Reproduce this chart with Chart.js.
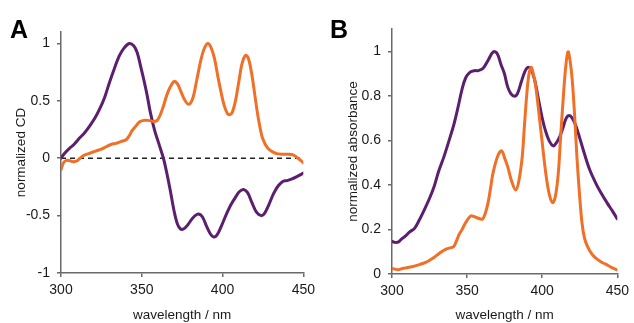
<!DOCTYPE html>
<html>
<head>
<meta charset="utf-8">
<script src="https://cdn.jsdelivr.net/npm/chart.js@4.4.1/dist/chart.umd.min.js"></script>
<style>
  html, body { margin: 0; padding: 0; background: #fff; }
  #wrap { position: relative; width: 634px; height: 323px; overflow: hidden; }
  canvas { position: absolute; top: 0; }
  .panelLabel { position: absolute; font: bold 25px "Liberation Sans", Arial, sans-serif; line-height: 25px; color: #000; }
</style>
</head>
<body>
<div id="wrap">
  <canvas id="chartA" width="320" height="323" style="left:0;width:320px;height:323px"></canvas>
  <canvas id="chartB" width="314" height="323" style="left:320px;width:314px;height:323px"></canvas>
  <div class="panelLabel" style="left:10px;top:17px">A</div>
  <div class="panelLabel" style="left:330px;top:17px">B</div>
</div>
<script>
'use strict'

// x axis ticks (both panels)
const wavelengthTicks = [300, 350, 400, 450];
// y axis ticks
const cdTicks = [-1, -0.5, 0, 0.5, 1];
const absTicks = [0, 0.2, 0.4, 0.6, 0.8, 1];

// A : CD, purple
const cdPurpleX = [300, 302, 305.5, 308, 311.6, 314.5, 317.7, 321, 323.8, 327, 330, 333, 336, 339, 342.3, 345, 347.2, 349.3, 351.2, 353.3, 355.3, 358, 360.4, 363.4, 365.5, 367.5, 370, 372, 374, 376, 378.5, 381, 383, 385.2, 387.5, 390, 392.5, 394.5, 396.5, 399, 402, 405, 408, 410.5, 413, 415.5, 418, 421, 424, 426, 428.5, 431.5, 434.5, 437.5, 440, 443, 446, 450];
const cdPurpleY = [0.0, 0.04, 0.09, 0.12, 0.178, 0.22, 0.28, 0.35, 0.425, 0.53, 0.66, 0.78, 0.89, 0.96, 1.0, 0.98, 0.92, 0.8, 0.687, 0.55, 0.4, 0.24, 0.134, 0.0, -0.13, -0.27, -0.46, -0.57, -0.617, -0.615, -0.58, -0.53, -0.5, -0.486, -0.51, -0.59, -0.66, -0.687, -0.67, -0.6, -0.5, -0.41, -0.34, -0.29, -0.272, -0.3, -0.38, -0.47, -0.5, -0.48, -0.41, -0.31, -0.24, -0.2, -0.195, -0.18, -0.16, -0.13];

// A : CD, orange
const cdOrangeX = [300, 301.5, 303, 305, 307.5, 309.5, 311, 313.5, 316, 319, 322, 325, 328, 331, 334, 337, 340.2, 342, 344, 346.3, 348.5, 351.2, 354, 357.3, 359.5, 361.5, 363.5, 365.5, 367.6, 370.1, 372, 374, 376.5, 379.1, 381.5, 384, 386.5, 388.5, 390.9, 393, 395, 397, 399, 401, 403, 404.5, 406, 408, 410, 412, 414.2, 416, 418, 420, 422, 424.4, 426.5, 428.5, 431, 433.5, 437, 440, 443.7, 446.7, 448.5, 450];
const cdOrangeY = [-0.1, -0.04, -0.02, -0.02, -0.03, -0.025, -0.01, 0.02, 0.035, 0.05, 0.065, 0.08, 0.1, 0.12, 0.13, 0.145, 0.16, 0.19, 0.24, 0.28, 0.315, 0.33, 0.33, 0.32, 0.33, 0.38, 0.46, 0.55, 0.62, 0.67, 0.65, 0.59, 0.51, 0.47, 0.52, 0.68, 0.85, 0.95, 1.0, 0.96, 0.87, 0.72, 0.58, 0.46, 0.39, 0.38, 0.4, 0.5, 0.66, 0.82, 0.897, 0.87, 0.74, 0.55, 0.36, 0.19, 0.12, 0.08, 0.055, 0.04, 0.035, 0.035, 0.03, 0.0, -0.02, -0.04];

// A : dashed zero line
const zeroLineX = [300, 450];
const zeroLineY = [0, 0];

// B : absorbance, purple
const absPurpleX = [300.2, 302, 304, 306.5, 308.5, 312, 315, 318, 321.5, 325, 328, 331, 334.6, 338, 341.1, 344, 346.5, 349, 352, 355, 357.4, 360.7, 364, 367.5, 370, 372.6, 374.8, 377, 379.1, 381.5, 383.5, 386.1, 388.5, 390.4, 392.5, 395, 397.6, 400, 402, 404.5, 407.4, 409.5, 411.7, 414, 416, 418, 420, 422.2, 425, 428, 431.5, 435.7, 439.5, 443.3, 447, 450];
const absPurpleY = [0.146, 0.142, 0.143, 0.158, 0.168, 0.19, 0.205, 0.24, 0.288, 0.34, 0.392, 0.46, 0.527, 0.6, 0.669, 0.75, 0.826, 0.88, 0.906, 0.913, 0.913, 0.924, 0.96, 0.998, 0.99, 0.94, 0.9, 0.84, 0.81, 0.798, 0.81, 0.863, 0.91, 0.928, 0.92, 0.87, 0.781, 0.7, 0.647, 0.6, 0.575, 0.59, 0.617, 0.66, 0.7, 0.712, 0.7, 0.669, 0.61, 0.542, 0.47, 0.407, 0.36, 0.318, 0.28, 0.247];

// B : absorbance, orange
const absOrangeX = [300, 302, 304, 307, 310.6, 314, 317.2, 320.5, 323.7, 327, 330.2, 333, 335.7, 338.5, 341.1, 343, 344.5, 346.5, 349, 352.4, 354.5, 356.3, 358.5, 360.2, 362, 363.9, 365.5, 367.2, 370.4, 373, 375, 377, 379.5, 382.4, 384.5, 386.7, 388, 389.6, 391, 392.6, 394, 395.4, 397.5, 399.8, 401.5, 403, 405, 407, 408.8, 410.7, 412.3, 413.9, 415.5, 417.2, 418.7, 420, 421.5, 423.1, 424.8, 426.5, 428.2, 430.2, 433, 435.7, 439, 442.2, 446, 450];
const absOrangeY = [0.024, 0.022, 0.019, 0.025, 0.029, 0.034, 0.04, 0.047, 0.056, 0.07, 0.086, 0.1, 0.111, 0.117, 0.123, 0.15, 0.175, 0.198, 0.23, 0.261, 0.258, 0.253, 0.248, 0.246, 0.27, 0.318, 0.38, 0.452, 0.53, 0.553, 0.52, 0.482, 0.42, 0.377, 0.42, 0.527, 0.65, 0.796, 0.89, 0.928, 0.9, 0.856, 0.74, 0.602, 0.5, 0.422, 0.35, 0.32, 0.35, 0.452, 0.62, 0.781, 0.92, 0.998, 0.95, 0.871, 0.72, 0.527, 0.36, 0.228, 0.16, 0.123, 0.09, 0.071, 0.055, 0.044, 0.03, 0.018];

//==================================================================================================

const PURPLE = '#5b1f6e';
const ORANGE = '#f07027';
const AXIS = '#6a6a6a';
const FONT = '"Liberation Sans", Arial, sans-serif';

function toPoints(xs, ys){
	return xs.map((x, i) => ({ x: x, y: ys[i] }));
}

function curve(xs, ys, color, order){
	return {
		data: toPoints(xs, ys),
		borderColor: color,
		borderWidth: 3,
		pointRadius: 0,
		tension: 0.35,
		borderJoinStyle: 'round',
		borderCapStyle: 'round',
		fill: false,
		order: order
	};
}

//축 옵션 (xHeight : 아래 축 높이 고정)
function makeOptions(yMin, yMax, yTicks, yTitle, yWidth, yTitlePad, xHeight, pad){
	return {
		responsive: false,
		animation: false,
		layout: { padding: pad },
		plugins: { legend: { display: false }, tooltip: { enabled: false } },
		scales: {
			x: {
				type: 'linear',
				min: 300,
				max: 450,
				afterBuildTicks: (s) => { s.ticks = wavelengthTicks.map(v => ({ value: v })); },
				afterFit: (s) => { s.height = xHeight; },
				grid: { drawOnChartArea: false, tickLength: 4, color: AXIS, lineWidth: 1.5 },
				border: { color: AXIS, width: 1.5 },
				ticks: { color: '#1a1a1a', padding: 5, font: { family: FONT, size: 14 }, maxRotation: 0, callback: (v) => String(v) },
				title: { display: true, text: 'wavelength / nm', color: '#1a1a1a', padding: { top: 0, bottom: 0 }, font: { family: FONT, size: 13.5 } }
			},
			y: {
				min: yMin,
				max: yMax,
				afterBuildTicks: (s) => { s.ticks = yTicks.map(v => ({ value: v })); },
				afterFit: (s) => { s.width = yWidth; },
				grid: { drawOnChartArea: false, tickLength: 4, color: AXIS, lineWidth: 1.5 },
				border: { color: AXIS, width: 1.5 },
				ticks: { color: '#1a1a1a', padding: 7, font: { family: FONT, size: 14 }, callback: (v) => String(v) },
				title: { display: true, text: yTitle, color: '#1a1a1a', padding: { top: yTitlePad, bottom: 0 }, font: { family: FONT, size: 13.5 } }
			}
		}
	};
}

new Chart(document.getElementById('chartA'), {
	type: 'line',
	data: {
		datasets: [
			curve(cdOrangeX, cdOrangeY, ORANGE, 0),
			curve(cdPurpleX, cdPurpleY, PURPLE, 1),
			{
				data: toPoints(zeroLineX, zeroLineY),
				borderColor: '#222',
				borderWidth: 1.3,
				borderDash: [5, 4],
				pointRadius: 0,
				order: 2
			}
		]
	},
	options: makeOptions(-1, 1.1, cdTicks, 'normalized CD', 61, 13, 50, { top: 32, right: 13, bottom: 0, left: 0 })
});

new Chart(document.getElementById('chartB'), {
	type: 'line',
	data: {
		datasets: [
			curve(absOrangeX, absOrangeY, ORANGE, 0),
			curve(absPurpleX, absPurpleY, PURPLE, 1)
		]
	},
	options: makeOptions(0, 1.1, absTicks, 'normalized absorbance', 72, 25, 49, { top: 29, right: 12, bottom: 0, left: 0 })
});
</script>
</body>
</html>
